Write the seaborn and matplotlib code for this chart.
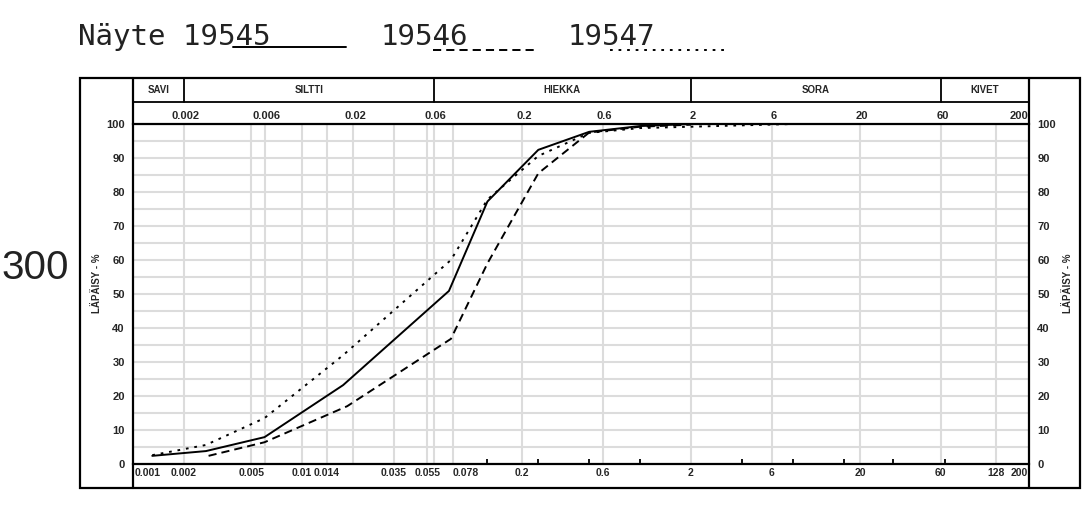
import numpy as np
import pandas as pd
import matplotlib
matplotlib.use("Agg")
import matplotlib.pyplot as plt
import matplotlib.transforms as mtransforms
from matplotlib.lines import Line2D
from matplotlib.patches import Rectangle
from matplotlib.ticker import NullFormatter
import seaborn as sns

# grain size curves (mm, passing %)
x_19545 = [0.0013, 0.0027, 0.006, 0.0175, 0.074, 0.125, 0.25, 0.5, 1.0, 2.0]
y_19545 = [2.4, 3.8, 7.9, 23.2, 50.9, 77.2, 92.4, 97.7, 99.4, 100.0]

x_19546 = [0.0028, 0.006, 0.0185, 0.076, 0.125, 0.25, 0.5, 1.0, 2.0]
y_19546 = [2.4, 6.4, 17.0, 36.8, 59.0, 85.5, 97.5, 99.2, 99.8]

x_19547 = [0.0013, 0.0027, 0.006, 0.0175, 0.076, 0.125, 0.25, 0.5, 1.0, 2.0, 8.0]
y_19547 = [2.6, 5.6, 13.5, 32.0, 60.0, 77.8, 90.6, 97.4, 98.8, 99.2, 100.0]

samples = ["19545", "19546", "19547"]

grid_x = [0.002, 0.005, 0.006, 0.01, 0.014, 0.02, 0.035, 0.055, 0.06, 0.078,
          0.2, 0.6, 2, 6, 20, 60, 128]
bottom_labels = [0.001, 0.002, 0.005, 0.01, 0.014, 0.035, 0.055, 0.078,
                 0.2, 0.6, 2, 6, 20, 60, 128, 200]
top_labels = [0.002, 0.006, 0.02, 0.06, 0.2, 0.6, 2, 6, 20, 60, 200]
sieve_ticks = [0.125, 0.25, 0.5, 1, 4, 8, 16, 31.5, 64]

class_edges = [0.001, 0.002, 0.06, 2, 60, 200]
class_names = ["SAVI", "SILTTI", "HIEKKA", "SORA", "KIVET"]

df = pd.concat([
    pd.DataFrame({"d": x_19545, "p": y_19545, "näyte": "19545"}),
    pd.DataFrame({"d": x_19546, "p": y_19546, "näyte": "19546"}),
    pd.DataFrame({"d": x_19547, "p": y_19547, "näyte": "19547"}),
])

sns.set_style("white")
plt.rcParams["font.family"] = ["Liberation Sans", "DejaVu Sans"]

W, H = 1082, 509
fig = plt.figure(figsize=(W / 100, H / 100), dpi=100)


def fx(px):
    return px / W


def fy(py):
    return 1 - py / H


ax = fig.add_axes([fx(133), fy(464), fx(1029) - fx(133), fy(124) - fy(464)])
ax.set_xscale("log")

dash_styles = {"19545": "", "19546": (4.2, 2.6), "19547": (1.4, 3.0)}
sns.lineplot(data=df, x="d", y="p", style="näyte", dashes=dash_styles,
             color="black", linewidth=1.4, estimator=None, sort=False,
             legend=False, ax=ax)

ax.set_xlim(0.001, 200)
ax.set_ylim(0, 100)
ax.set_xlabel("")
ax.set_ylabel("")

ax.set_xticks(grid_x)
ax.set_xticklabels([])
ax.set_xticks(sieve_ticks, minor=True)
ax.xaxis.set_minor_formatter(NullFormatter())
ax.tick_params(axis="x", which="major", length=0)
ax.tick_params(axis="x", which="minor", direction="in", length=3.5,
               width=1.3, color="black", bottom=True, top=False)
ax.set_yticks(np.arange(0, 101, 10))
ax.set_yticks(np.arange(5, 100, 10), minor=True)
ax.yaxis.set_minor_formatter(NullFormatter())
ax.tick_params(axis="y", which="both", length=0, labelleft=True,
               labelright=True, pad=6)
for lab in ax.get_yticklabels():
    lab.set_fontsize(8)
    lab.set_fontweight("bold")
ax.grid(True, which="major", axis="both", color="#dcdcdc", lw=1.5)
ax.grid(True, which="minor", axis="y", color="#dcdcdc", lw=1.5)
ax.set_axisbelow(True)

for side in ["top", "bottom"]:
    ax.spines[side].set_linewidth(1.6)
    ax.spines[side].set_color("black")
for side in ["left", "right"]:
    ax.spines[side].set_visible(False)

tr = mtransforms.blended_transform_factory(ax.transData, ax.transAxes)
for i, v in enumerate(bottom_labels):
    ha = "center"
    if i == 0 or v == 0.078:
        ha = "left"
    if i == len(bottom_labels) - 1:
        ha = "right"
    xv = v * 1.02 if i == 0 else (v * 0.99 if ha == "right" else v)
    ax.text(xv, -0.025, f"{v:g}", transform=tr, ha=ha, fontsize=7.5,
            fontweight="bold", va="center")
for i, v in enumerate(top_labels):
    ha = "right" if i == len(top_labels) - 1 else "center"
    xv = v * 0.99 if ha == "right" else v * 1.03
    ax.text(xv, 1.024, f"{v:g}", transform=tr, ha=ha, fontsize=8,
            fontweight="bold", va="center")

# header with soil classes
for e in class_edges[1:-1]:
    ax.plot([e, e], [1.066, 1.135], transform=tr, color="black", lw=1.3,
            clip_on=False)
for a, b, name in zip(class_edges[:-1], class_edges[1:], class_names):
    ax.text(np.sqrt(a * b), 1.1, name, transform=tr, ha="center",
            fontsize=7, fontweight="bold", va="center")

# frame lines
frame_kw = dict(transform=fig.transFigure, color="black")
fig.add_artist(Rectangle((fx(80), fy(488)), fx(1080) - fx(80), fy(78) - fy(488),
                         fill=False, lw=1.6, **frame_kw))
fig.add_artist(Line2D([fx(133), fx(133)], [fy(78), fy(488)], lw=1.6, **frame_kw))
fig.add_artist(Line2D([fx(1029), fx(1029)], [fy(78), fy(488)], lw=1.6, **frame_kw))
fig.add_artist(Line2D([fx(133), fx(1029)], [fy(102), fy(102)], lw=1.3, **frame_kw))

for xp in (97, 1068):
    fig.text(fx(xp), fy(283), "LÄPÄISY - %", rotation=90, ha="center",
             va="center", fontsize=7, fontweight="bold")

fig.text(fx(1), fy(268), "300", ha="left", va="center", fontsize=29,
         color="#222222")

# title legend
mono = ["DejaVu Sans Mono"]
fig.text(fx(78), fy(45), "Näyte 19545", ha="left", va="baseline",
         fontsize=21, family=mono, color="#222222")
fig.text(fx(381), fy(45), "19546", ha="left", va="baseline", fontsize=21,
         family=mono, color="#222222")
fig.text(fx(568), fy(45), "19547", ha="left", va="baseline", fontsize=21,
         family=mono, color="#222222")
legend_spans = [(233, 346, 47), (433, 536, 50), (610, 727, 50)]
for s, (a, b, yy) in zip(samples, legend_spans):
    ln = Line2D([fx(a), fx(b)], [fy(yy), fy(yy)], transform=fig.transFigure,
                color="black", lw=1.4)
    if dash_styles[s]:
        ln.set_dashes(dash_styles[s])
    fig.add_artist(ln)

fig.savefig("out.png", dpi=100)
